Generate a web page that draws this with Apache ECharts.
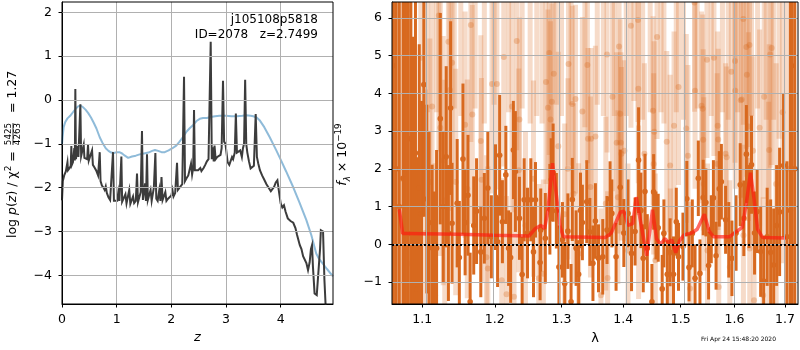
<!DOCTYPE html>
<html><head><meta charset="utf-8">
<script src="https://cdn.jsdelivr.net/npm/echarts@6/dist/echarts.min.js"></script>
<style>html,body{margin:0;padding:0;background:#fff}#c{width:800px;height:350px}</style>
</head><body><div id="c"></div><script>
// ---------- Left panel: log p(z) and chi2 ----------
const zTicks = [0, 1, 2, 3, 4];
const logpTicks = [-4, -3, -2, -1, 0, 1, 2];
const pzZ = [0.000,0.015,0.040,0.070,0.090,0.100,0.110,0.140,0.160,0.171,0.180,0.200,0.215,0.225,0.235,0.244,0.255,0.270,0.285,0.300,0.320,0.336,0.350,0.370,0.385,0.397,0.410,0.440,0.460,0.476,0.490,0.520,0.550,0.565,0.600,0.630,0.660,0.690,0.705,0.730,0.760,0.780,0.800,0.820,0.850,0.880,0.910,0.933,0.950,0.980,1.010,1.030,1.050,1.070,1.086,1.100,1.130,1.160,1.180,1.210,1.230,1.250,1.280,1.300,1.320,1.350,1.372,1.390,1.420,1.440,1.463,1.480,1.500,1.520,1.535,1.555,1.570,1.600,1.620,1.640,1.660,1.680,1.708,1.725,1.750,1.780,1.800,1.820,1.840,1.870,1.890,1.910,1.940,1.970,2.000,2.020,2.040,2.070,2.090,2.104,2.120,2.150,2.180,2.200,2.232,2.250,2.280,2.310,2.340,2.360,2.380,2.400,2.415,2.430,2.460,2.490,2.510,2.530,2.550,2.570,2.590,2.620,2.650,2.680,2.700,2.720,2.740,2.760,2.775,2.790,2.810,2.840,2.870,2.900,2.920,2.945,2.965,2.990,3.030,3.060,3.090,3.110,3.130,3.160,3.180,3.200,3.230,3.260,3.290,3.310,3.330,3.350,3.370,3.390,3.420,3.450,3.480,3.510,3.543,3.565,3.590,3.620,3.660,3.700,3.740,3.780,3.820,3.850,3.880,3.910,3.940,3.970,4.000,4.030,4.060,4.090,4.130,4.180,4.230,4.270,4.300,4.350,4.380,4.410,4.440,4.470,4.500,4.530,4.553,4.573,4.590,4.620,4.660,4.690,4.720,4.735,4.760,4.775,4.800,4.830,4.880,4.957];
const pzLog = [-2.29,-1.85,-1.72,-1.63,-1.62,-1.42,-1.60,-1.55,-1.50,-1.05,-1.48,-1.42,-1.38,-1.10,-1.38,0.25,-1.35,-1.32,-1.05,-1.30,-1.28,-0.10,-1.28,-1.30,-1.30,-1.02,-1.32,-1.34,-1.35,-1.02,-1.38,-1.40,-1.15,-1.48,-1.55,-1.62,-1.72,-1.19,-1.85,-1.95,-2.00,-2.05,-1.97,-2.12,-2.22,-2.28,-2.30,-1.19,-2.30,-2.31,-2.30,-2.10,-2.30,-2.31,-1.29,-2.32,-2.34,-2.15,-2.36,-2.35,-2.05,-2.37,-2.36,-2.20,-2.35,-2.30,-1.68,-2.33,-2.30,-2.10,-0.71,-2.28,-2.30,-1.90,-2.30,-1.24,-2.28,-2.30,-2.05,-2.30,-2.28,-2.00,-1.21,-2.25,-2.30,-2.05,-2.30,-1.76,-2.28,-2.28,-2.10,-2.30,-2.25,-2.22,-2.18,-2.05,-2.20,-2.12,-2.10,-1.43,-2.05,-2.00,-1.98,-1.92,0.53,-1.85,-1.78,-1.72,-1.70,-1.45,-1.70,-1.55,-0.23,-1.60,-1.62,-1.60,-1.63,-1.55,-1.62,-1.58,-1.55,-1.48,-1.40,-1.35,-1.32,1.33,-1.35,-1.08,-1.40,-1.04,-1.35,-1.30,-1.28,-1.25,-1.10,0.44,-0.95,-1.00,-1.42,-1.48,-1.45,-1.30,-1.35,-1.20,-0.31,-1.20,-1.22,-1.15,-1.30,-1.10,-1.00,0.46,-1.00,-1.20,-1.40,-1.56,-1.53,-1.50,-0.32,-1.30,-1.45,-1.60,-1.72,-1.82,-1.92,-2.00,-2.08,-2.06,-1.98,-1.88,-1.83,-2.10,-2.36,-2.45,-2.40,-2.55,-2.70,-2.76,-2.80,-2.92,-3.08,-3.31,-3.40,-3.56,-3.60,-3.72,-3.88,-3.70,-3.40,-3.31,-3.80,-4.41,-4.45,-4.42,-3.40,-2.97,-2.98,-3.00,-4.10,-4.90,-5.20,-5.50];
const chiZ = [0,0.01,0.03,0.06,0.10,0.15,0.20,0.25,0.30,0.34,0.38,0.43,0.48,0.53,0.58,0.63,0.69,0.75,0.80,0.85,0.90,0.95,1.00,1.05,1.10,1.15,1.21,1.28,1.35,1.42,1.50,1.58,1.65,1.70,1.76,1.82,1.88,1.95,2.02,2.09,2.15,2.21,2.28,2.34,2.40,2.46,2.52,2.58,2.65,2.72,2.80,2.88,3.00,3.10,3.20,3.30,3.37,3.45,3.50,3.56,3.62,3.70,3.80,3.92,4.00,4.10,4.23,4.35,4.47,4.56,4.65,4.70,4.77,4.85,4.957];
const chiLog = [-1.00,-0.85,-0.62,-0.50,-0.42,-0.36,-0.28,-0.20,-0.14,-0.13,-0.16,-0.22,-0.30,-0.40,-0.52,-0.65,-0.85,-1.00,-1.10,-1.16,-1.20,-1.21,-1.19,-1.19,-1.22,-1.27,-1.32,-1.29,-1.27,-1.24,-1.22,-1.20,-1.16,-1.14,-1.16,-1.19,-1.19,-1.15,-1.10,-1.04,-0.95,-0.85,-0.72,-0.64,-0.57,-0.48,-0.43,-0.41,-0.41,-0.39,-0.37,-0.36,-0.36,-0.37,-0.37,-0.36,-0.35,-0.36,-0.37,-0.40,-0.47,-0.62,-0.85,-1.15,-1.36,-1.63,-1.99,-2.36,-2.74,-3.08,-3.50,-3.62,-3.73,-3.86,-4.02];

// ---------- Right panel: spectrum ----------
const lamTicks = [1.1, 1.2, 1.3, 1.4, 1.5, 1.6, 1.7];
const fluxTicks = [-1, 0, 1, 2, 3, 4, 5, 6];
const darkLam = [1.0625,1.066,1.070,1.075,1.078,1.0815,1.085,1.088,1.091,1.093,1.096,1.099,1.102,1.106,1.109,1.113,1.116,1.119,1.124,1.128,1.132,1.135,1.138,1.140,1.147,1.150,1.155,1.158,1.162,1.165,1.170,1.174,1.180,1.185,1.190,1.195,1.201,1.204,1.207,1.211,1.216,1.220,1.223,1.227,1.230,1.236,1.240,1.243,1.248,1.253,1.257,1.260,1.267,1.268,1.275,1.282,1.284,1.287,1.292,1.296,1.3015,1.305,1.310,1.315,1.317,1.323,1.327,1.330,1.333,1.340,1.345,1.350,1.354,1.359,1.366,1.373,1.378,1.381,1.388,1.395,1.401,1.408,1.414,1.420,1.426,1.430,1.434,1.437,1.441,1.449,1.452,1.456,1.460,1.467,1.470,1.476,1.481,1.487,1.492,1.496,1.504,1.511,1.515,1.521,1.526,1.532,1.535,1.541,1.546,1.551,1.556,1.560,1.565,1.571,1.575,1.583,1.589,1.595,1.603,1.611,1.618,1.623,1.628,1.633,1.639,1.644,1.651,1.657,1.664,1.671,1.677,1.683,1.689,1.697,1.704,1.711,1.714,1.720];
const darkFlux = [4.73,2.0,1.0,1.75,1.88,0.29,2.8,1.0,2.42,-1.19,1.5,0.8,4.23,1.2,0.58,-0.09,-0.60,-0.10,3.33,1.0,2.32,0.3,3.61,0.56,1.09,-0.35,2.26,0.58,1.3,-1.52,0.5,0.88,-0.2,0.69,1.49,0.2,1.25,0.07,2.36,0.60,1.84,-0.1,-0.35,2.50,1.93,0.69,-0.8,1.18,0.3,1.18,-0.2,1.18,-0.48,0.38,0.16,0.93,1.71,1.90,0.89,-0.6,0.12,-1.04,0.35,-1.52,1.19,-0.10,-0.79,0.9,0.58,1.13,0.33,-0.5,0.62,-0.37,-0.33,0.38,1.2,0.82,-0.33,1.51,0.3,0.82,-0.24,0.34,2.23,0.9,-0.37,1.40,-0.10,-1.52,1.39,0.5,0.44,-1.18,0.29,-0.79,-0.21,-0.79,0.6,-0.33,-0.06,1.21,-0.61,0.29,-0.9,1.75,-0.77,1.24,1.11,-0.56,0.4,1.23,-0.3,1.47,1.66,0.65,0.12,-0.37,0.3,1.58,0.69,2.39,1.0,2.11,0.3,0.87,-0.19,-0.97,0.2,-0.21,-0.55,0.5,0.86,2.09,0.2,0.90,4.73,2.0];
const darkErr = [8.0,7.5,7.0,6.0,5.5,6.5,5.0,4.5,4.0,3.5,3.8,3.0,3.5,2.5,2.4,2.2,2.0,2.6,2.8,2.0,2.4,1.8,2.3,1.6,1.7,1.5,2.0,1.4,1.6,1.3,1.3,1.4,1.2,1.2,1.5,1.1,1.4,1.2,1.6,1.1,1.3,1.0,1.2,1.3,1.6,1.1,1.0,1.1,1.2,1.1,1.2,1.0,1.0,1.1,1.2,1.2,1.1,1.3,1.0,1.1,1.0,1.1,1.0,1.0,1.1,1.0,0.9,1.0,1.0,1.1,0.9,1.0,1.0,0.9,1.0,0.9,1.0,0.9,0.9,1.0,0.9,0.9,1.0,0.9,1.4,1.0,0.9,1.0,0.9,1.0,1.0,0.9,0.9,0.9,0.9,0.9,0.9,1.0,0.9,0.9,0.9,1.0,0.9,0.9,0.9,1.0,0.9,1.0,0.9,0.9,0.9,1.0,0.9,1.0,1.0,0.9,1.0,1.0,1.0,1.1,1.0,1.3,1.1,1.3,1.1,1.1,1.2,1.2,1.3,1.4,1.5,1.6,1.7,1.9,2.0,6.0,7.0,8.0];
const lightLam = [1.064,1.0735,1.0796,1.085,1.098,1.104,1.110,1.113,1.117,1.122,1.124,1.128,1.130,1.135,1.137,1.140,1.145,1.158,1.161,1.166,1.168,1.180,1.181,1.188,1.190,1.196,1.203,1.210,1.213,1.217,1.225,1.228,1.232,1.235,1.236,1.245,1.257,1.265,1.272,1.276,1.279,1.281,1.283,1.285,1.288,1.295,1.305,1.310,1.311,1.317,1.319,1.322,1.327,1.333,1.341,1.342,1.346,1.347,1.354,1.363,1.371,1.373,1.374,1.382,1.389,1.391,1.393,1.395,1.396,1.397,1.402,1.408,1.413,1.425,1.4255,1.426,1.436,1.451,1.452,1.453,1.455,1.458,1.475,1.481,1.4815,1.488,1.496,1.510,1.513,1.517,1.525,1.526,1.538,1.540,1.541,1.542,1.548,1.549,1.561,1.567,1.568,1.569,1.570,1.583,1.585,1.591,1.594,1.601,1.6015,1.612,1.614,1.617,1.6172,1.623,1.624,1.627,1.629,1.6295,1.636,1.638,1.649,1.656,1.658,1.667,1.668,1.670,1.673,1.682,1.695,1.705,1.715,
  1.107,1.119,1.143,1.152,1.172,1.185,1.199,1.220,1.240,1.252,1.262,1.270,1.292,1.300,1.315,1.337,1.357,1.367,1.385,1.405,1.418,1.433,1.446,1.465,1.470,1.492,1.505,1.530,1.556,1.577,1.588,1.606,1.633,1.645,1.662,1.677,1.688];
const lightFlux = [3.0,1.74,6.19,-0.5,4.94,0.3,1.65,3.65,-1.35,6.06,3.09,2.22,1.16,5.37,4.09,4.81,1.65,3.17,1.47,5.81,3.44,2.74,1.71,-0.34,-0.64,4.25,4.25,-0.95,4.96,-1.32,3.65,-1.39,5.39,1.96,3.31,0.5,1.74,-0.9,-0.78,4.30,3.62,5.07,3.31,3.78,4.52,2.6,0.8,2.0,4.78,3.72,1.34,3.85,-0.25,3.52,4.75,2.80,1.52,2.80,2.86,-1.35,1.08,5.03,-0.89,3.91,2.69,1.25,5.24,3.46,2.69,2.40,2.48,-0.16,5.79,5.94,4.12,0.85,2.40,3.54,2.13,2.98,-0.42,5.49,2.72,2.09,-0.82,3.14,4.17,3.07,2.35,-1.17,6.41,4.07,3.67,3.59,2.77,1.6,4.89,-0.16,4.94,2.13,3.14,2.78,-1.13,2.40,2.31,-0.60,4.57,4.86,4.07,3.82,3.84,5.97,0.24,5.23,4.49,3.12,5.28,-0.11,2.48,-1.48,3.09,-1.35,3.91,1.08,2.50,5.03,5.20,1.60,3.5,2.0,3.0,
  7.0,6.8,7.2,6.6,7.0,6.7,7.3,6.9,7.1,6.5,7.0,6.6,7.2,6.8,7.0,6.6,7.1,6.7,7.0,6.8,7.3,6.6,7.1,6.9,6.5,7.0,6.7,7.2,6.8,7.0,6.6,7.1,6.9,7.2,6.8,7.0,6.6];
const lightErr = [6.0,5.0,4.5,4.5,4.0,3.8,3.8,3.6,3.5,3.6,3.4,3.3,3.2,3.4,3.2,3.1,3.0,3.0,2.9,3.1,2.9,2.8,2.7,2.7,2.7,2.9,2.8,2.7,2.9,2.6,2.8,2.6,2.9,2.7,2.7,2.5,2.6,2.5,2.5,2.7,2.6,2.7,2.6,2.6,2.7,2.5,2.4,2.4,2.7,2.6,2.4,2.5,2.4,2.5,2.6,2.4,2.4,2.4,2.4,2.3,2.3,2.6,2.3,2.5,2.4,2.3,2.6,2.5,2.4,2.3,2.4,2.3,2.7,2.7,2.5,2.3,2.4,2.5,2.4,2.4,2.3,2.7,2.4,2.4,2.3,2.5,2.6,2.5,2.4,2.3,2.9,2.6,2.5,2.5,2.4,2.3,2.6,2.3,2.6,2.4,2.5,2.4,2.3,2.4,2.4,2.3,2.6,2.7,2.6,2.6,2.6,2.8,2.4,2.7,2.7,2.5,2.7,2.4,2.5,2.5,2.6,2.6,2.7,2.7,2.8,3.0,3.1,3.2,4.0,5.0,6.0,
  3.5,3.3,3.6,3.2,3.4,3.5,3.6,3.4,3.5,3.3,3.6,3.4,3.5,3.4,3.3,3.5,3.4,3.3,3.6,3.4,3.5,3.3,3.6,3.4,3.3,3.5,3.4,3.6,3.4,3.5,3.3,3.6,3.5,3.6,3.5,3.7,3.8];
const modelLam = [1.0700,1.0744,1.0800,1.1500,1.2000,1.2500,1.2600,1.2680,1.2740,1.2790,1.2860,1.2920,1.2980,1.3030,1.3700,1.3800,1.3950,1.4010,1.4080,1.4160,1.4220,1.4300,1.4400,1.4500,1.4570,1.4640,1.4720,1.4780,1.4840,1.4910,1.4980,1.5060,1.5200,1.5300,1.5430,1.5520,1.5600,1.5900,1.6050,1.6150,1.6230,1.6310,1.6380,1.6450,1.6550,1.7020];
const modelFlux = [0.93,0.29,0.29,0.27,0.24,0.22,0.42,0.50,0.42,0.90,2.15,1.30,0.45,0.20,0.18,0.30,0.85,0.88,0.50,0.55,1.25,0.55,-0.30,0.92,0.15,0.00,0.15,0.05,0.12,-0.22,0.10,0.25,0.30,0.40,0.80,0.35,0.20,0.20,0.35,0.45,1.10,1.90,1.20,0.40,0.18,0.17];

const FONT = 'DejaVu Sans';
const minus = v => String(v).replace('-', '\u2212');
const Z_MIN = 0, Z_MAX = 4.957, LOGP_MIN = -4.652, LOGP_MAX = 2.234;
const LAM_MIN = 1.0607, LAM_MAX = 1.7267, FLUX_MIN = -1.58, FLUX_MAX = 6.42;
const GRID_STYLE = { color: '#b0b0b0', width: 1, type: 'solid' };
const ZERO_STYLE = { color: '#000', width: 2, type: [2, 2] };

function errRender(style) {
  return function (params, api) {
    const x = api.value(0), y = api.value(1), e = api.value(2);
    const lo = api.coord([x, y - e]);
    const hi = api.coord([x, y + e]);
    const c = api.coord([x, y]);
    return {
      type: 'group',
      children: [
        { type: 'line', shape: { x1: lo[0], y1: lo[1], x2: hi[0], y2: hi[1] },
          style: { stroke: style.bar, lineWidth: style.bw } },
        { type: 'circle', shape: { cx: c[0], cy: c[1], r: style.r },
          style: { fill: style.dot } }
      ]
    };
  };
}

const chart = echarts.init(document.getElementById('c'), null, { renderer: 'canvas' });
const axisCommon = {
  axisLine: { show: true, onZero: false, lineStyle: { color: '#000', width: 1 } },
  axisTick: { show: true, length: 3.5, lineStyle: { color: '#000', width: 1 } },
  splitLine: { show: false },
  axisLabel: { color: '#000', fontFamily: FONT, fontSize: 12.5 }
};
const lamLog = lamTicks.map(Math.log);

// gridlines as marker lines (the approach that rendered in the right panel)
const leftGridLines = zTicks.filter(v => v > Z_MIN).map(v => ({ xAxis: v }))
  .concat(logpTicks.map(v => ({ yAxis: v })));
const rightGridLines = lamLog.map(v => ({ xAxis: v }))
  .concat(fluxTicks.map(v => ({ yAxis: v })))
  .concat([{ yAxis: 0, lineStyle: ZERO_STYLE }]);

const option = {
  animation: false,
  backgroundColor: '#fff',
  grid: [
    { left: 62, top: 2, width: 271, height: 302, show: true, borderColor: '#000', borderWidth: 1, backgroundColor: 'transparent', z: 10 },
    { left: 392, top: 2, width: 406, height: 302, show: true, borderColor: '#000', borderWidth: 1, backgroundColor: 'transparent', z: 10 }
  ],
  xAxis: [
    Object.assign({}, axisCommon, {
      type: 'value', gridIndex: 0, min: Z_MIN, max: Z_MAX,
      axisTick: Object.assign({}, axisCommon.axisTick, { customValues: zTicks }),
      axisLabel: Object.assign({}, axisCommon.axisLabel, { customValues: zTicks, margin: 9, formatter: minus }),
      name: 'z', nameLocation: 'middle', nameGap: 27,
      nameTextStyle: { fontFamily: FONT, fontSize: 13, fontStyle: 'italic', color: '#000' }
    }),
    Object.assign({}, axisCommon, {
      type: 'value', gridIndex: 1, min: Math.log(LAM_MIN), max: Math.log(LAM_MAX),
      axisTick: Object.assign({}, axisCommon.axisTick, { customValues: lamLog }),
      axisLabel: Object.assign({}, axisCommon.axisLabel, { customValues: lamLog, margin: 9,
        formatter: v => Math.exp(v).toFixed(1) }),
      name: 'λ', nameLocation: 'middle', nameGap: 28,
      nameTextStyle: { fontFamily: FONT, fontSize: 13, color: '#000' }
    })
  ],
  yAxis: [
    Object.assign({}, axisCommon, {
      type: 'value', gridIndex: 0, min: LOGP_MIN, max: LOGP_MAX,
      axisTick: Object.assign({}, axisCommon.axisTick, { customValues: logpTicks }),
      axisLabel: Object.assign({}, axisCommon.axisLabel, { customValues: logpTicks, margin: 10, formatter: minus })
    }),
    Object.assign({}, axisCommon, {
      type: 'value', gridIndex: 1, min: FLUX_MIN, max: FLUX_MAX,
      axisTick: Object.assign({}, axisCommon.axisTick, { customValues: fluxTicks }),
      axisLabel: Object.assign({}, axisCommon.axisLabel, { customValues: fluxTicks, margin: 10, formatter: minus })
    })
  ],
  series: [
    { type: 'line', xAxisIndex: 0, yAxisIndex: 0, data: chiZ.map((z, i) => [z, chiLog[i]]),
      showSymbol: false, symbol: 'none', lineStyle: { color: 'rgba(31,119,180,0.5)', width: 2 }, z: 3 },
    { type: 'line', xAxisIndex: 0, yAxisIndex: 0, data: pzZ.map((z, i) => [z, pzLog[i]]),
      showSymbol: false, symbol: 'none', lineStyle: { color: '#3c3c3c', width: 2, join: 'miter' }, z: 4,
      markLine: { silent: true, symbol: 'none', label: { show: false }, emphasis: { disabled: true },
        animation: false, lineStyle: GRID_STYLE, data: leftGridLines } },
    { type: 'custom', xAxisIndex: 1, yAxisIndex: 1, clip: true, z: 2,
      data: lightLam.map((l, i) => [Math.log(l), lightFlux[i], lightErr[i]]),
      encode: { x: 0, y: 1 },
      renderItem: errRender({ bar: 'rgba(216,105,31,0.24)', bw: 5, dot: 'rgba(216,105,31,0.3)', r: 3 }) },
    { type: 'custom', xAxisIndex: 1, yAxisIndex: 1, clip: true, z: 3,
      data: darkLam.map((l, i) => [Math.log(l), darkFlux[i], darkErr[i]]),
      encode: { x: 0, y: 1 },
      renderItem: errRender({ bar: '#d8691f', bw: 3, dot: '#d8691f', r: 2.8 }) },
    { type: 'line', xAxisIndex: 1, yAxisIndex: 1, z: 5,
      data: modelLam.map((l, i) => [Math.log(l), modelFlux[i]]),
      showSymbol: false, symbol: 'none', lineStyle: { color: 'rgba(255,25,15,0.65)', width: 3.5 },
      markLine: { silent: true, symbol: 'none', z: 6, label: { show: false }, emphasis: { disabled: true },
        animation: false, lineStyle: GRID_STYLE, data: rightGridLines } }
  ],
  graphic: [
    { type: 'text', x: 318, y: 20, z: 20, style: { text: 'j105108p5818', font: '12px "DejaVu Sans"', fill: '#000', align: 'right', verticalAlign: 'middle' } },
    { type: 'text', x: 318, y: 35, z: 20, style: { text: 'ID=2078   z=2.7499', font: '12px "DejaVu Sans"', fill: '#000', align: 'right', verticalAlign: 'middle' } },
    { type: 'group', x: 13, y: 154, rotation: Math.PI / 2, children: [
      { type: 'text', x: -84, y: 0, style: {
          text: '{r|log }{i|p}{r|(}{i|z}{r|) / χ}{s|2}{r| =}',
          align: 'left', verticalAlign: 'middle', fill: '#000',
          rich: {
            r: { fontFamily: FONT, fontSize: 12.5, lineHeight: 18, fill: '#000' },
            i: { fontFamily: FONT, fontSize: 12.5, fontStyle: 'italic', lineHeight: 18, fill: '#000' },
            s: { fontFamily: FONT, fontSize: 9, lineHeight: 10, verticalAlign: 'top', fill: '#000' }
          } } },
      { type: 'text', x: 20, y: -4.2, style: { text: '5425', font: '8.75px "DejaVu Sans"', fill: '#000', align: 'center', verticalAlign: 'middle' } },
      { type: 'rect', shape: { x: 9, y: -0.4, width: 22, height: 0.8 }, style: { fill: '#000' } },
      { type: 'text', x: 20, y: 4.6, style: { text: '4263', font: '8.75px "DejaVu Sans"', fill: '#000', align: 'center', verticalAlign: 'middle' } },
      { type: 'text', x: 41, y: 0, style: { text: '= 1.27', font: '12.5px "DejaVu Sans"', fill: '#000', align: 'left', verticalAlign: 'middle' } }
    ] },
    { type: 'group', x: 343, y: 154.5, rotation: Math.PI / 2, children: [
      { type: 'text', x: 0, y: 0, style: {
          text: '{i|f}{sb|λ}{r| × 10}{sp|−19}',
          align: 'center', verticalAlign: 'middle', fill: '#000',
          rich: {
            r: { fontFamily: FONT, fontSize: 12.5, lineHeight: 18, fill: '#000' },
            i: { fontFamily: FONT, fontSize: 12.5, fontStyle: 'italic', lineHeight: 18, fill: '#000' },
            sb: { fontFamily: FONT, fontSize: 8.75, fontStyle: 'italic', lineHeight: 10, verticalAlign: 'bottom', fill: '#000' },
            sp: { fontFamily: FONT, fontSize: 8.75, lineHeight: 10, verticalAlign: 'top', fill: '#000' }
          } } }
    ] },
    { type: 'text', x: 701, y: 339, style: { text: 'Fri Apr 24 15:48:20 2020', font: '6px "DejaVu Sans"', fill: '#000', align: 'left', verticalAlign: 'middle' } }
  ]
};
chart.setOption(option);
</script></body></html>
